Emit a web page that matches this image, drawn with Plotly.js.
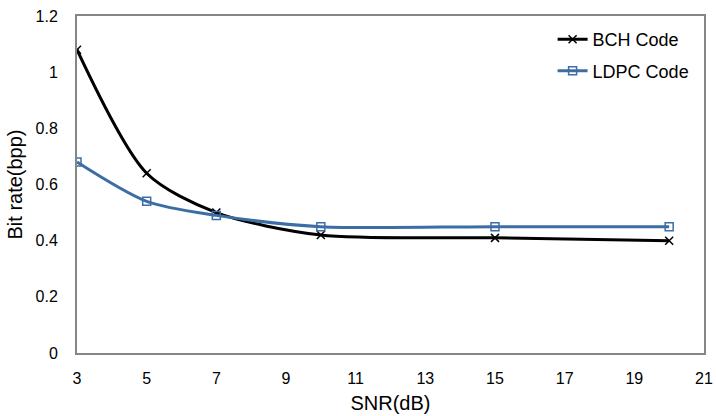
<!DOCTYPE html>
<html>
<head>
<meta charset="utf-8">
<script src="https://cdn.plot.ly/plotly-3.0.1.min.js"></script>
<style>
  html, body { margin: 0; padding: 0; background: #fff; }
  #chart { width: 716px; height: 416px; }
</style>
</head>
<body>
<div id="chart"></div>
<script>
const snr = [3, 5, 7, 10, 15, 20];
const bchRate = [1.08, 0.64, 0.50, 0.42, 0.41, 0.40];
const ldpcRate = [0.68, 0.54, 0.49, 0.45, 0.45, 0.45];
const xTicks = [3, 5, 7, 9, 11, 13, 15, 17, 19, 21];
const yTicks = [0, 0.2, 0.4, 0.6, 0.8, 1, 1.2];

const font = "Liberation Sans, Arial, sans-serif";

const traces = [
  {
    x: snr, y: bchRate, name: 'BCH Code', legendgroup: 'a',
    type: 'scatter', mode: 'lines+markers',
    line: { color: '#000000', width: 3, shape: 'spline', smoothing: 0.8 },
    marker: { symbol: 'x-thin-open', size: 8, color: '#000000', line: { width: 1.5, color: '#000000' } }
  },
  {
    x: snr, y: ldpcRate, name: 'LDPC Code', legendgroup: 'b',
    type: 'scatter', mode: 'lines+markers',
    line: { color: '#3C6EA5', width: 3, shape: 'spline', smoothing: 0.8 },
    marker: { symbol: 'square-open', size: 8, color: '#3C6EA5', line: { width: 1.5, color: '#3C6EA5' } }
  }
];

const layout = {
  width: 716, height: 416,
  margin: { l: 77, r: 12, t: 16, b: 63 },
  paper_bgcolor: '#fff', plot_bgcolor: '#fff',
  font: { family: font, color: '#000', size: 16 },
  showlegend: true,
  legend: {
    x: 0.985, y: 0.985, xanchor: 'right', yanchor: 'top',
    font: { size: 18 }, bgcolor: 'rgba(0,0,0,0)',
    traceorder: 'grouped', tracegroupgap: 5
  },
  xaxis: {
    range: [3, 21], tickvals: xTicks, ticks: '', ticklabelstandoff: 10,
    showgrid: false, zeroline: false,
    showline: true, linecolor: '#868686', linewidth: 2, mirror: true,
    title: { text: 'SNR(dB)', font: { size: 20 }, standoff: 10 }
  },
  yaxis: {
    range: [0, 1.2], tickvals: yTicks, ticks: '', ticklabelstandoff: 14,
    showgrid: false, zeroline: false,
    showline: true, linecolor: '#868686', linewidth: 2, mirror: true,
    title: { text: 'Bit rate(bpp)', font: { size: 20 }, standoff: 8 }
  }
};

Plotly.newPlot('chart', traces, layout, { displayModeBar: false });
</script>
</body>
</html>
